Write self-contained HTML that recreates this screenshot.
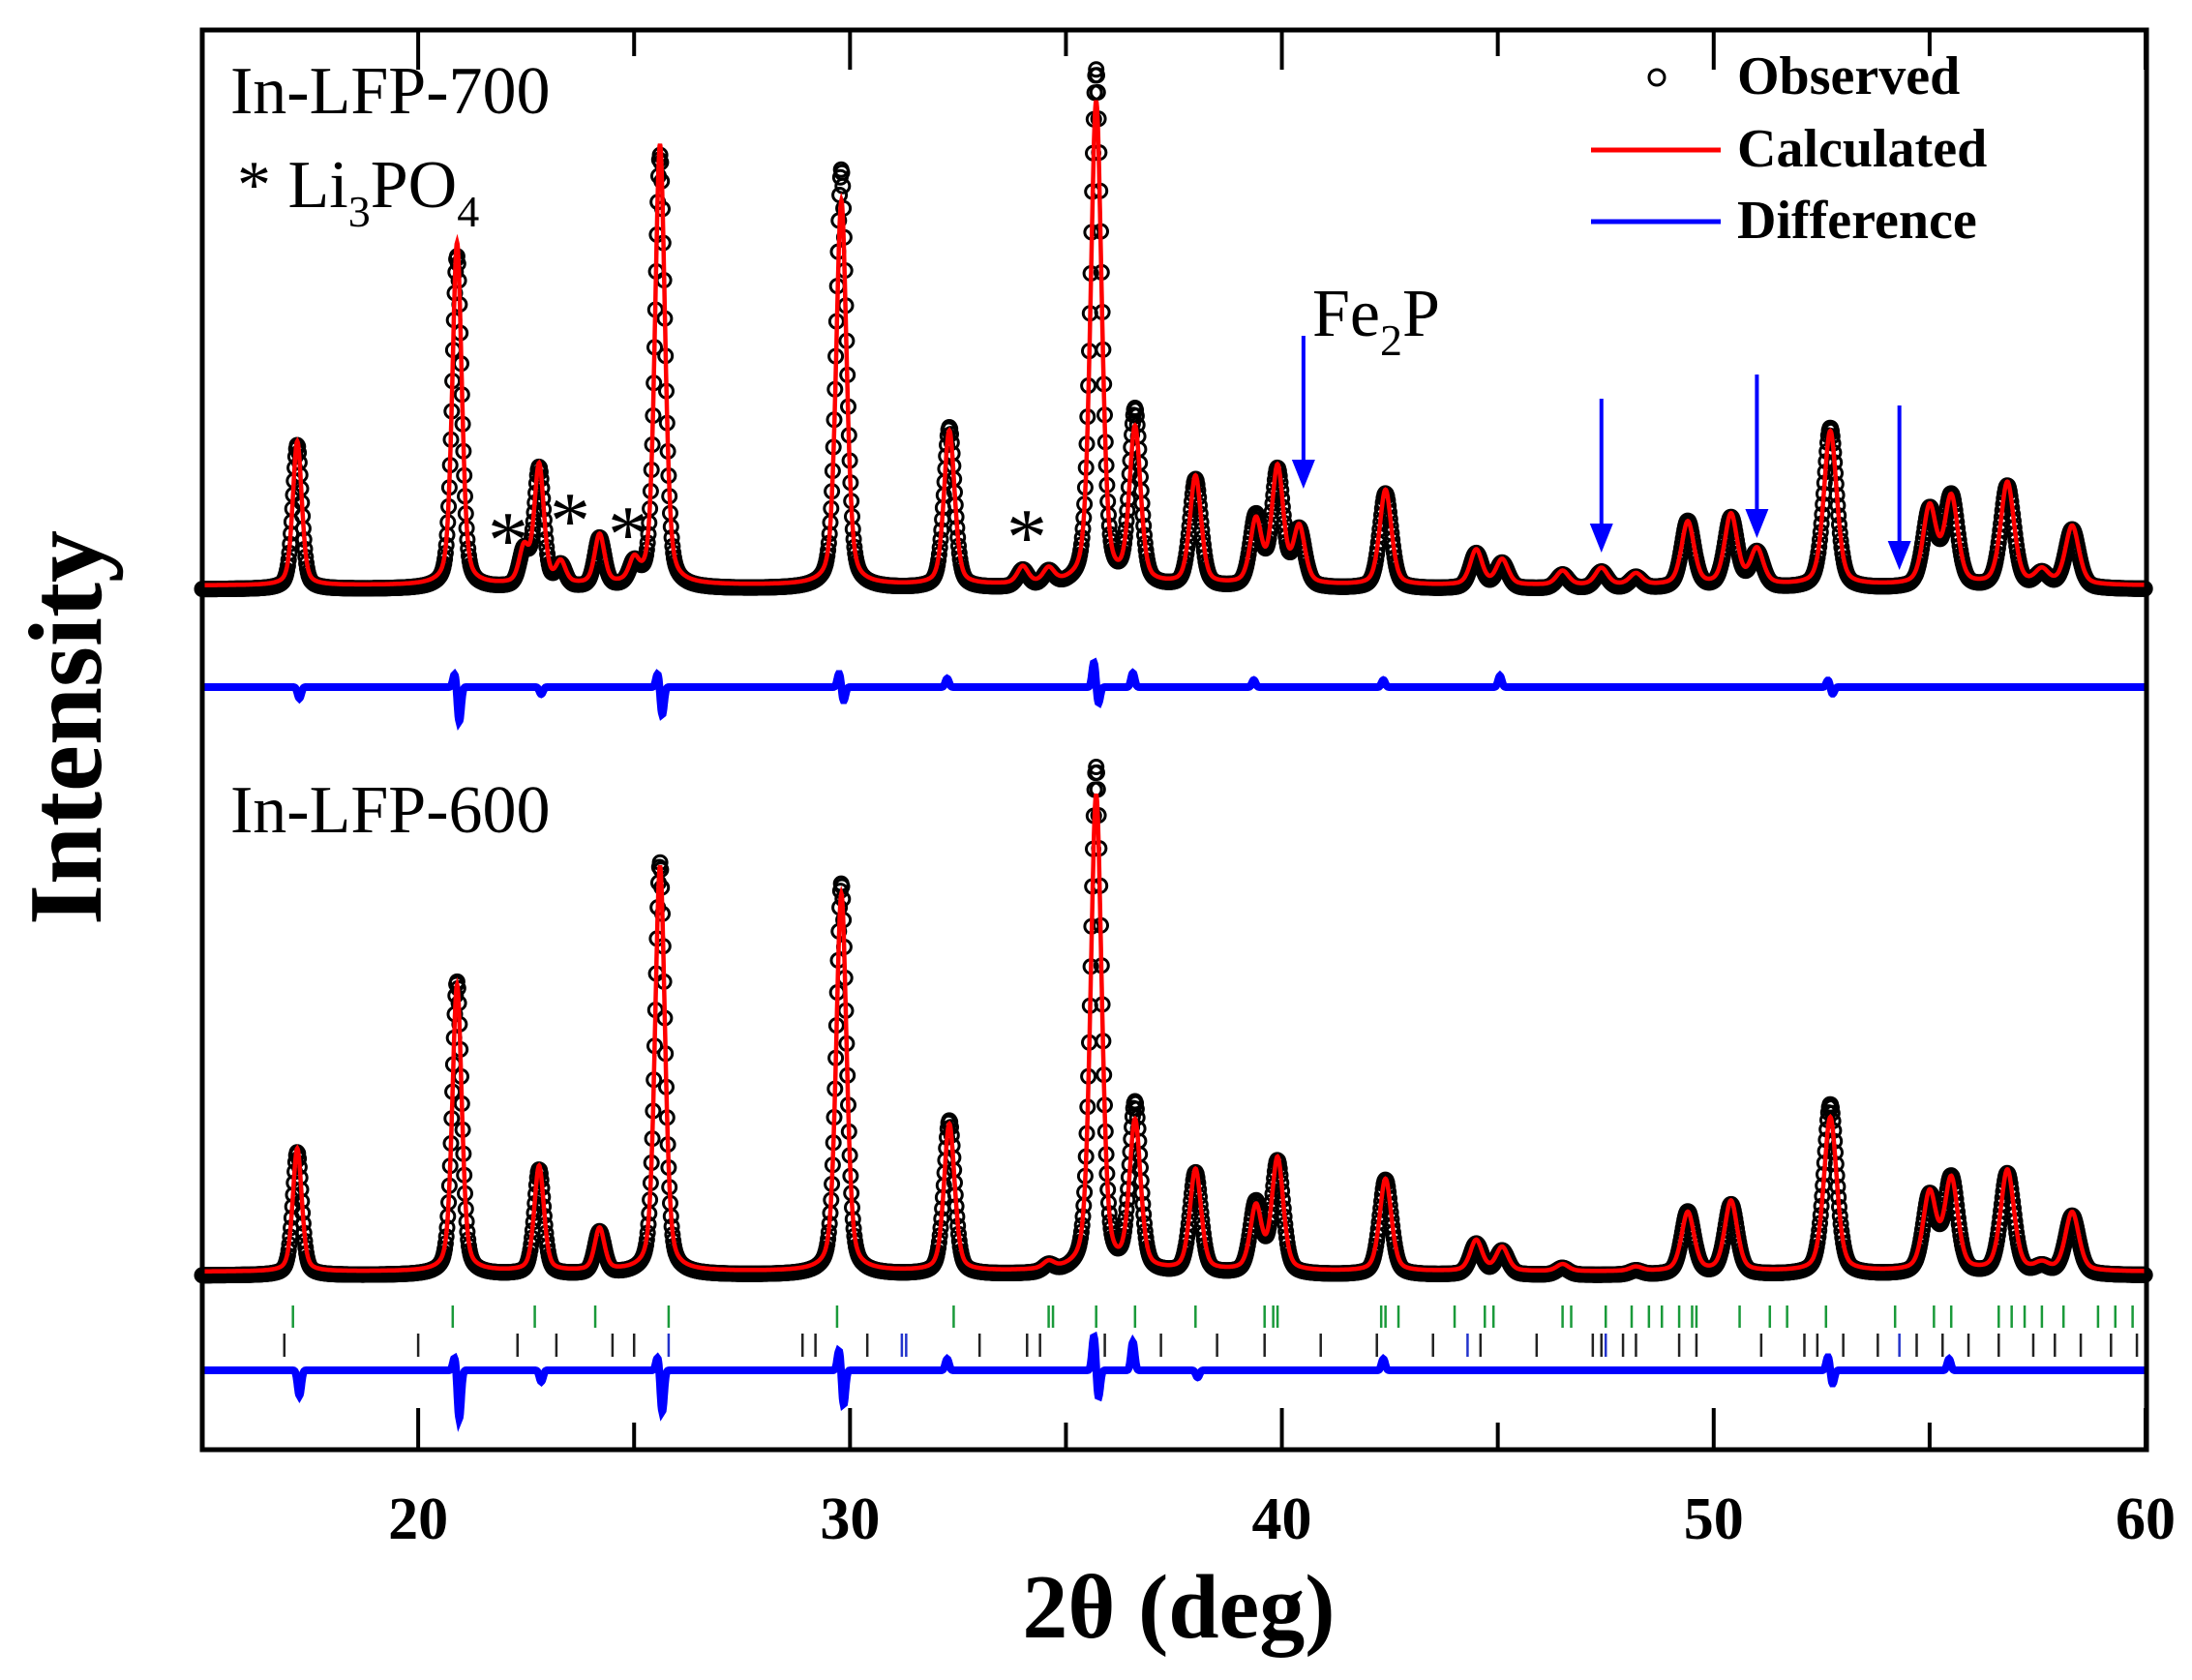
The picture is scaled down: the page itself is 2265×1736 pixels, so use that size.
<!DOCTYPE html>
<html><head><meta charset="utf-8"><style>
html,body{margin:0;padding:0;background:#fff}
svg{display:block}
text{font-family:"Liberation Serif","DejaVu Serif",serif}
</style></head><body>
<svg id="chart" width="2265" height="1736" viewBox="0 0 2265 1736" xmlns="http://www.w3.org/2000/svg">
<g id="plot"></g>
<rect x="209" y="31" width="2009" height="1467" fill="none" stroke="#000" stroke-width="5"/>
<g id="ticks"></g>
<text transform="translate(104,752) rotate(-90)" text-anchor="middle" font-size="108" font-weight="bold">Intensity</text>
<text x="1218" y="1692" text-anchor="middle" font-size="94" font-weight="bold">2θ (deg)</text>
<text x="238" y="117" font-size="70">In-LFP-700</text>
<text x="245" y="214" font-size="70">* Li<tspan font-size="46" dy="20">3</tspan><tspan dy="-20">PO</tspan><tspan font-size="46" dy="20">4</tspan></text>
<text x="1356" y="347" font-size="70">Fe<tspan font-size="46" dy="20">2</tspan><tspan dy="-20">P</tspan></text>
<text x="238" y="860" font-size="70">In-LFP-600</text>
<g font-size="84">
<text x="504" y="586">*</text><text x="568" y="566">*</text><text x="628" y="580">*</text><text x="1040" y="583">*</text>
</g>
<g id="arrows"></g>
<g>
<circle cx="1712" cy="80" r="8" fill="none" stroke="#000" stroke-width="3"/>
<text x="1795" y="97" font-size="56" font-weight="bold">Observed</text>
<line x1="1644" y1="155" x2="1778" y2="155" stroke="#f00" stroke-width="5"/>
<text x="1795" y="172" font-size="56" font-weight="bold">Calculated</text>
<line x1="1644" y1="229" x2="1778" y2="229" stroke="#00f" stroke-width="5"/>
<text x="1795" y="246" font-size="56" font-weight="bold">Difference</text>
</g>
</svg>
<script>
const xTicks=[20,30,40,50,60];
const xMinor=[25,35,45,55];
const upperPos=[17.2,20.9,22.45,22.8,23.3,24.2,25.0,25.6,29.8,32.3,34.0,34.6,35.7,36.6,38.0,39.4,39.9,40.4,42.4,44.5,45.1,46.5,47.4,48.2,49.4,50.4,51.0,52.7,55.0,55.5,56.8,57.6,58.3];
const upperObs=[103,238,25,85,15,35,15,310,300,115,12,10,370,125,77,50,83,40,68,25,18,10,12,8,48,50,25,115,55,65,73,10,42];
const upperCalc=[103,245,25,85,15,35,15,315,275,110,12,10,345,110,77,45,83,40,68,25,18,10,12,8,45,50,25,110,55,62,73,10,42];
const lowerPos=[17.2,20.9,22.8,24.2,25.6,29.8,32.3,34.6,35.7,36.6,38.0,39.4,39.9,42.4,44.5,45.1,46.5,48.2,49.4,50.4,52.7,55.0,55.5,56.8,57.6,58.3];
const lowerObs=[88,210,75,30,295,280,110,5,362,120,72,50,80,68,22,17,5,3,45,50,122,55,68,72,5,42];
const lowerCalc=[88,205,75,30,290,270,105,5,340,105,72,45,80,66,22,17,5,3,42,50,110,55,65,72,5,42];
const upperDiffPos=[17.2,20.9,22.8,25.6,29.8,32.3,35.7,36.6,39.4,42.4,45.1,52.7];
const upperDiffUp=[0,10,0,10,10,6,18,10,5,5,8,5];
const upperDiffDown=[8,25,5,20,10,0,12,0,0,0,0,5];
const lowerDiffPos=[17.2,20.9,22.8,25.6,29.8,32.3,35.7,36.6,38.0,42.4,52.7,55.5];
const lowerDiffUp=[0,10,0,10,15,8,25,20,0,8,10,8];
const lowerDiffDown=[18,35,8,30,25,0,20,0,5,0,10,0];
const greenTicks=[17.1,20.8,22.7,24.1,25.8,29.7,32.4,34.6,34.7,35.7,36.6,38.0,39.6,39.8,39.9,42.3,42.4,42.7,44.0,44.7,44.9,46.5,46.7,47.5,48.1,48.5,48.8,49.2,49.5,49.6,50.6,51.3,51.7,52.6,54.2,55.1,55.5,56.6,56.9,57.2,57.6,58.1,58.9,59.3,59.7];
const blackTicks=[16.9,20.0,22.3,23.2,24.5,25.0,28.9,29.2,30.4,33.0,34.1,34.4,35.9,37.2,38.5,39.6,40.9,42.2,43.5,44.6,45.9,47.2,47.4,47.9,48.2,49.2,49.6,51.1,52.1,52.4,53.0,53.8,54.7,55.3,55.9,56.6,57.4,57.9,58.5,59.2,59.8];
const blueTicks=[25.8,31.2,31.3,44.3,47.5,54.3];
const arrowX=[40.5,47.4,51.0,54.3];
const arrowTop=[347,412,387,419];
const arrowBottom=[505,571,556,589];

const NS='http://www.w3.org/2000/svg';
const X=d=>209+(d-15)*(2217-209)/45;
const K=1.4445;
function el(tag,attrs,parent){const e=document.createElementNS(NS,tag);for(const k in attrs)e.setAttribute(k,attrs[k]);parent.appendChild(e);return e;}
function prof(x,pos,h){let s=0;for(let i=0;i<pos.length;i++){const w=0.12+0.0015*(pos[i]-15);const t=(x-pos[i])/w;s+=h[i]*(0.6*Math.exp(-t*t*0.693)+0.4/(1+t*t));}return s;}
function dprof(x,pos,up,dn){let s=0;for(let i=0;i<pos.length;i++){const a=(x-pos[i]+0.05)/0.06,b=(x-pos[i]-0.05)/0.06;s+=up[i]*Math.exp(-a*a)-dn[i]*Math.exp(-b*b);}return s;}
const plot=document.getElementById('plot');
function pattern(pos,obs,calc,base,name){
  const g=el('g',{},plot);
  
  
  for(let x=15;x<=60;x+=0.018){
    el('circle',{cx:X(x).toFixed(1),cy:(base-K*prof(x,pos,obs)).toFixed(1),r:7,fill:'none',stroke:'#000','stroke-width':3},g);
  }
  let d='';
  for(let x=15;x<=60;x+=0.01){d+=(d?'L':'M')+X(x).toFixed(1)+','+(base-4-K*prof(x,pos,calc)).toFixed(1);}
  const p=el('path',{d:d,fill:'none',stroke:'#f00','stroke-width':4.5},plot);
  
  
}
function diff(pos,up,dn,base,name){
  let d='';
  for(let x=15;x<=60;x+=0.01){d+=(d?'L':'M')+X(x).toFixed(1)+','+(base-K*dprof(x,pos,up,dn)).toFixed(1);}
  const p=el('path',{d:d,fill:'none',stroke:'#00f','stroke-width':8},plot);
  
  
}
pattern(upperPos,upperObs,upperCalc,609,'in-lfp-700');
diff(upperDiffPos,upperDiffUp,upperDiffDown,710,'in-lfp-700');
pattern(lowerPos,lowerObs,lowerCalc,1318,'in-lfp-600');
diff(lowerDiffPos,lowerDiffUp,lowerDiffDown,1416,'in-lfp-600');
function braggRow(arr,y1,y2,color,name){
  const g=el('g',{},plot);
  
  
  arr.forEach(v=>{el('line',{x1:X(v),x2:X(v),y1:y1,y2:y2,stroke:color,'stroke-width':2.5},g);});
}
braggRow(greenTicks,1349,1372,'#1a9a3a','bragg-ticks-lfp');
braggRow(blackTicks,1378,1402,'#222','bragg-ticks-li3po4');
braggRow(blueTicks,1378,1402,'#2233cc','bragg-ticks-fe2p');
const tg=document.getElementById('ticks');
xTicks.forEach(v=>{
  el('line',{x1:X(v),x2:X(v),y1:1498,y2:1455,stroke:'#000','stroke-width':4},tg);
  el('line',{x1:X(v),x2:X(v),y1:31,y2:72,stroke:'#000','stroke-width':4},tg);
  const t=el('text',{x:X(v),y:1590,'text-anchor':'middle','font-size':62,'font-weight':'bold'},tg);
  
  
  t.textContent=v;
});
xMinor.forEach(v=>{
  el('line',{x1:X(v),x2:X(v),y1:1498,y2:1470,stroke:'#000','stroke-width':4},tg);
  el('line',{x1:X(v),x2:X(v),y1:31,y2:58,stroke:'#000','stroke-width':4},tg);
});
const ag=document.getElementById('arrows');
arrowX.forEach((v,i)=>{
  const x=X(v);
  el('line',{x1:x,x2:x,y1:arrowTop[i],y2:arrowBottom[i]-18,stroke:'#00f','stroke-width':4},ag);
  const a=el('path',{d:`M${x-12},${arrowBottom[i]-30}L${x},${arrowBottom[i]}L${x+12},${arrowBottom[i]-30}Z`,fill:'#00f'},ag);
  
  
});
</script>
</body></html>
